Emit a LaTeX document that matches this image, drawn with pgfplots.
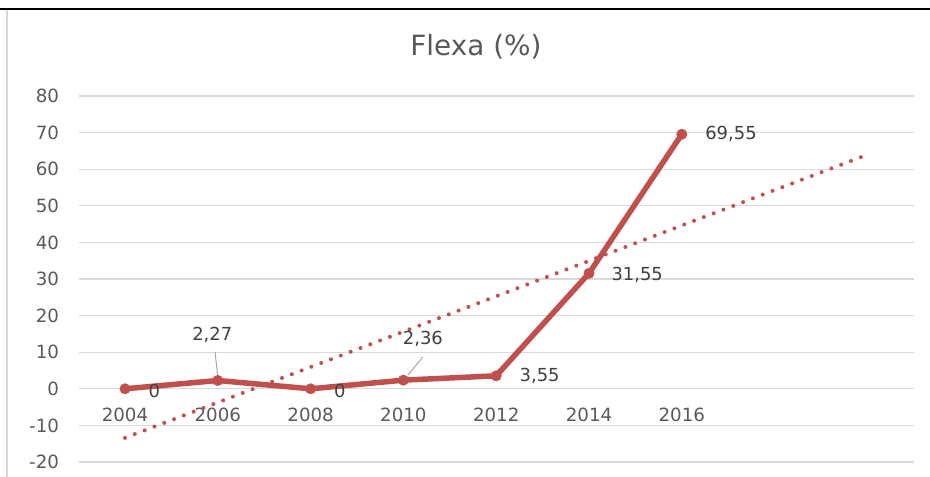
\documentclass[border=0pt]{standalone}
\usepackage{fontspec}
\setmainfont{DejaVu Sans}
\usepackage{pgfplots}
\pgfplotsset{compat=1.18}
\definecolor{ser}{RGB}{192,80,77}
\definecolor{tickc}{RGB}{89,89,89}
\definecolor{labc}{RGB}{64,64,64}
\definecolor{gridc}{RGB}{217,217,217}
\definecolor{leadc}{RGB}{166,166,166}
\begin{document}
\begin{tikzpicture}[x=1bp,y=1bp]
\path[use as bounding box] (0,0) rectangle (930,477);
\begin{axis}[at={(78.6bp,15bp)}, anchor=south west, scale only axis,
  width=835.2bp, height=366bp,
  xmin=0.5, xmax=9.5, ymin=-20, ymax=80,
  ytick={-20,-10,...,80},
  xtick={1,2,3,4,5,6,7},
  xticklabels={2004,2006,2008,2010,2012,2014,2016},
  ymajorgrids, grid style={gridc, line width=1.2bp},
  axis x line=middle, axis y line=left,
  axis line style={draw=none}, tick style={draw=none},
  ticklabel style={font=\fontsize{18.3}{21}\selectfont, text=tickc},
  xticklabel style={anchor=center, yshift=-24bp},
  yticklabel style={anchor=east, xshift=-14bp},
  /pgf/number format/assume math mode=true,
  clip=false]
\addplot[ser, line width=4bp, line cap=round, dash pattern=on 0pt off 10.5bp, no markers]
  coordinates {(1,-13.40) (9,63.96)};
\addplot[ser, line width=5.5bp, line join=round, mark=*, mark size=5.2bp, mark options={solid, fill=ser, draw=ser, line width=0.5bp}]
  coordinates {(1,0) (2,2.27) (3,0) (4,2.36) (5,3.55) (6,31.55) (7,69.55)};
\draw[leadc, line width=1bp] (axis cs:1.97,10.1) -- (axis cs:2.0,3.3);
\draw[leadc, line width=1bp] (axis cs:4.21,8.7) -- (axis cs:4.05,3.8);
\begin{scope}[every node/.style={font=\fontsize{18}{21}\selectfont, text=labc}]
\node[anchor=west, xshift=20bp, yshift=-2bp] at (axis cs:1,0) {0};
\node[anchor=center] at (axis cs:1.94,14.7) {2,27};
\node[anchor=west, xshift=20bp, yshift=-2bp] at (axis cs:3,0) {0};
\node[anchor=center] at (axis cs:4.21,13.7) {2,36};
\node[anchor=west, xshift=20bp] at (axis cs:5,3.55) {3,55};
\node[anchor=west, xshift=19bp, yshift=-2bp] at (axis cs:6,31.55) {31,55};
\node[anchor=west, xshift=20bp] at (axis cs:7,69.55) {69,55};
\end{scope}
\end{axis}
\node[font=\fontsize{28}{32}\selectfont, text=tickc] at (476,430) {Flexa (\%)};
\draw[black, line width=2.5bp] (0,468) -- (930,468);
\draw[black!15, line width=1.2bp] (7,0) -- (7,467);
\end{tikzpicture}
\end{document}
